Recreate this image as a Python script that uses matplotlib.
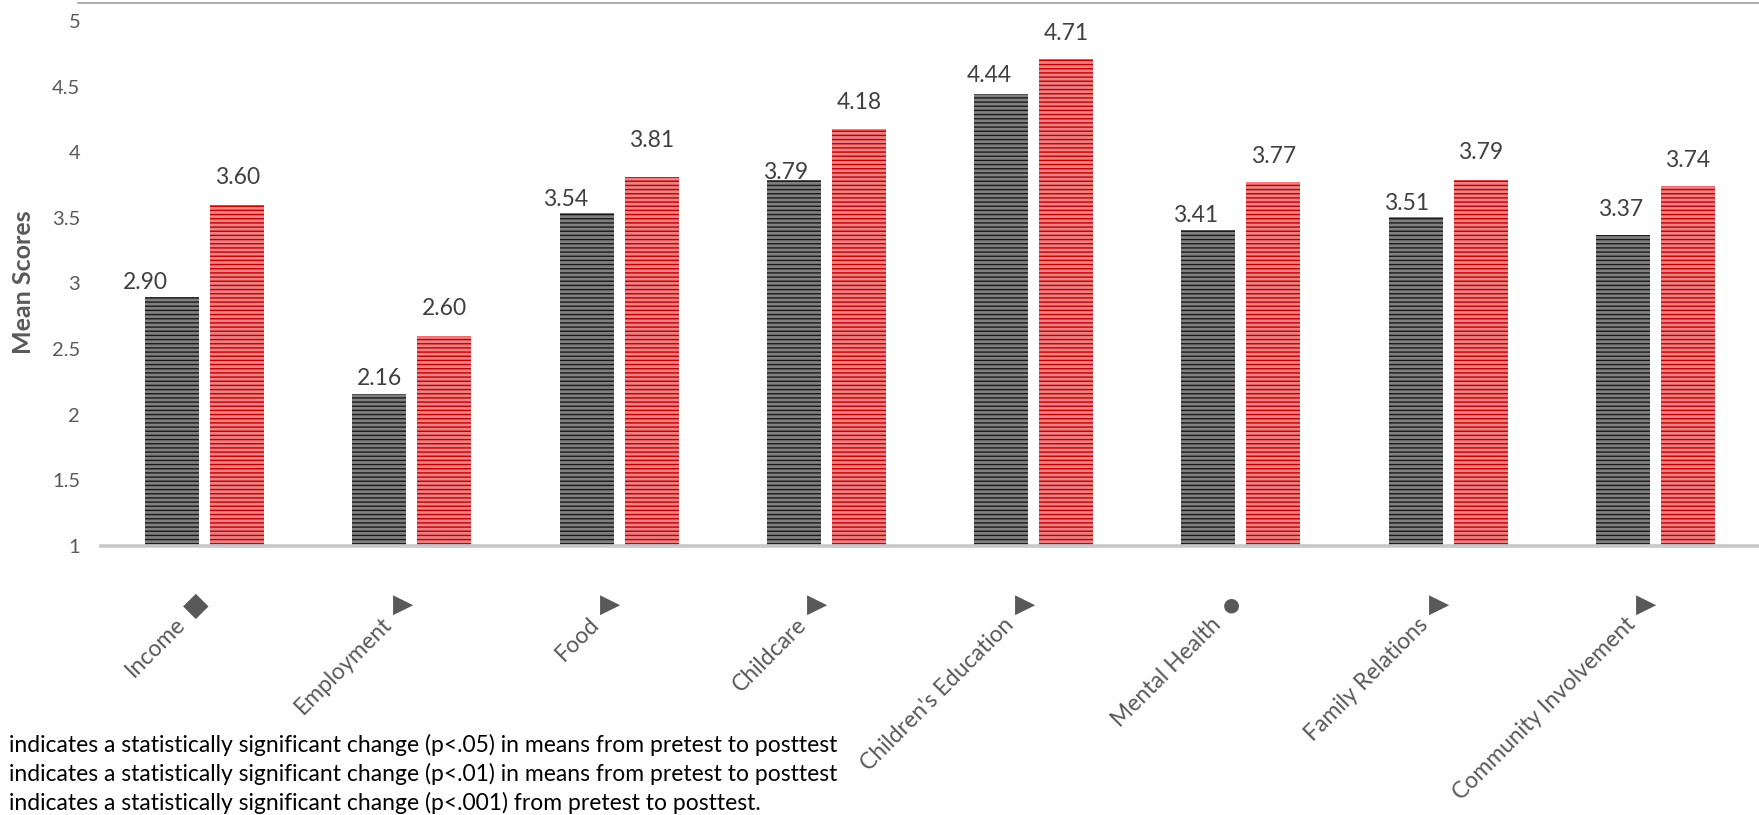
import matplotlib
matplotlib.use("Agg")
import matplotlib.pyplot as plt
from matplotlib.lines import Line2D
import numpy as np

# data
categories = ["Income", "Employment", "Food", "Childcare", "Children's Education",
              "Mental Health", "Family Relations", "Community Involvement"]
sig_marks = ["\u25C6", "\u25B6", "\u25B6", "\u25B6", "\u25B6", "\u25CF", "\u25B6", "\u25B6"]
pretest = [2.90, 2.16, 3.54, 3.79, 4.44, 3.41, 3.51, 3.37]
posttest = [3.60, 2.60, 3.81, 4.18, 4.71, 3.77, 3.79, 3.74]
yticks = [1, 1.5, 2, 2.5, 3, 3.5, 4, 4.5, 5]
footnotes = [
    "indicates a statistically significant change (p<.05) in means from pretest to posttest",
    "indicates a statistically significant change (p<.01) in means from pretest to posttest",
    "indicates a statistically significant change (p<.001) from pretest to posttest.",
]

# label nudges (pixels), the excel labels were placed by hand
pre_dx = [-27, 0, -21, -8, -12, -13, -9, -2]
pre_dy = [14, 15, 13, 7, 19, 14, 13, 25]
post_dy = [27, 27, 37, 26, 26, 26, 27, 26]
mark_size = {"\u25C6": 24, "\u25B6": 19, "\u25CF": 14}

plt.rcParams["font.family"] = ["Lato", "DejaVu Sans"]
plt.rcParams["hatch.linewidth"] = 1.0

fig = plt.figure(figsize=(17.59, 8.15), dpi=100)
ax = fig.add_axes([101 / 1759, 269 / 815, 1 - 101 / 1759, 543 / 815])

x = np.arange(len(categories))
w = 0.26
off = 0.157

ax.bar(x - off, [p - 1 for p in pretest], w, bottom=1, facecolor="#808080",
       edgecolor="#1a1a1a", hatch="----", linewidth=0)
ax.bar(x + off, [p - 1 for p in posttest], w, bottom=1, facecolor="#ee8083",
       edgecolor="#c00000", hatch="----", linewidth=0)

for i in range(len(categories)):
    ax.annotate(f"{pretest[i]:.2f}", (x[i] - off, pretest[i]), xytext=(pre_dx[i], pre_dy[i]),
                textcoords="offset pixels", ha="center", va="center",
                fontsize=16.5, color="#404040")
    ax.annotate(f"{posttest[i]:.2f}", (x[i] + off, posttest[i]), xytext=(0, post_dy[i]),
                textcoords="offset pixels", ha="center", va="center",
                fontsize=16.5, color="#404040")
    # category name, rotated, plus its significance mark kept upright
    ax.annotate(categories[i], (x[i], 0), xycoords=("data", "axes fraction"),
                xytext=(-23, -75), textcoords="offset pixels", rotation=45,
                rotation_mode="anchor", ha="right", va="center",
                fontsize=16.5, color="#595959")
    ax.annotate(sig_marks[i], (x[i], 0), xycoords=("data", "axes fraction"),
                xytext=(-9, -59), textcoords="offset pixels", ha="center", va="center",
                fontsize=mark_size[sig_marks[i]], color="#595959", family="DejaVu Sans")

ax.set_xlim(-0.5, len(categories) - 0.5)
ax.set_ylim(1, 5.137)
ax.set_yticks(yticks)
ax.set_yticklabels([f"{t:g}" for t in yticks], fontsize=14.5, color="#595959")
ax.tick_params(axis="y", length=0, pad=15)
ax.set_xticks([])

ax.set_ylabel("Mean Scores", fontsize=18, fontweight="bold", color="#595959")
ax.yaxis.set_label_coords(-0.04, 0.486)

for s in ["left", "right", "top"]:
    ax.spines[s].set_visible(False)
ax.spines["bottom"].set_color("#c8c8c8")
ax.spines["bottom"].set_linewidth(2.6)

# thin border line across the top of the chart area
fig.add_artist(Line2D([78 / 1759, 1], [812 / 815, 812 / 815], color="#a0a0a0", lw=1.2))

for k, line in enumerate(footnotes):
    fig.text(9 / 1759, 1 - (745 + 29 * k) / 815, line, fontsize=16.5, color="black",
             ha="left", va="center")

fig.savefig("out.png", dpi=100)
